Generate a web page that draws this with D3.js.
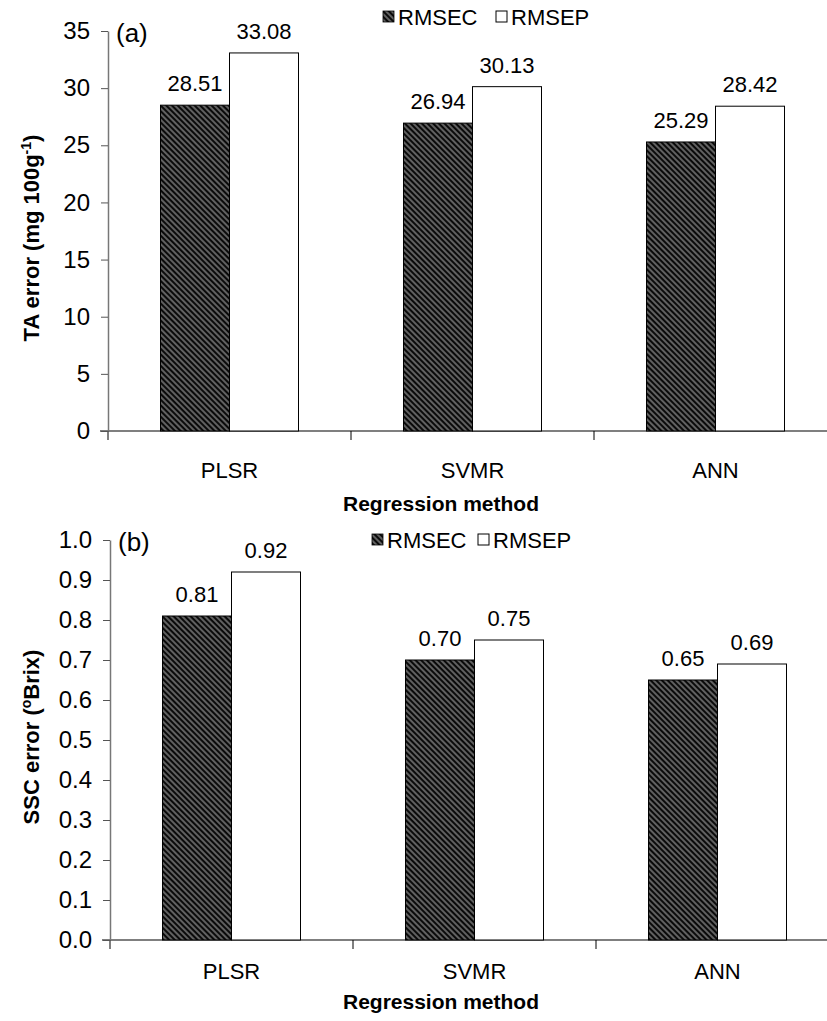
<!DOCTYPE html>
<html><head><meta charset="utf-8">
<script src="https://cdn.jsdelivr.net/npm/d3@7/dist/d3.min.js"></script>
<style>body{margin:0;background:#fff}svg{display:block;font-family:Arial,"Liberation Sans",sans-serif}</style>
</head><body>
<svg id="c" width="827" height="1021"></svg>
<script>
const categories = ["PLSR","SVMR","ANN"];
const seriesNames = ["RMSEC","RMSEP"];
const taRMSEC = [28.51, 26.94, 25.29];
const taRMSEP = [33.08, 30.13, 28.42];
const sscRMSEC = [0.81, 0.70, 0.65];
const sscRMSEP = [0.92, 0.75, 0.69];
const taTicks = [0,5,10,15,20,25,30,35];
const sscTicks = [0,0.1,0.2,0.3,0.4,0.5,0.6,0.7,0.8,0.9,1.0];

const FS = 22;
const svg = d3.select("#c");
const defs = svg.append("defs");
const pat = defs.append("pattern").attr("id","hatch").attr("patternUnits","userSpaceOnUse")
  .attr("width",4).attr("height",4).attr("patternTransform","rotate(-45)");
pat.append("rect").attr("width",4).attr("height",4).attr("fill","#0a0a0a");
pat.append("line").attr("x1",1).attr("y1",0).attr("x2",1).attr("y2",4).attr("stroke","#9a9a9a").attr("stroke-width",1.2);

function panel(o){
  const g = svg.append("g");
  const x = d3.scaleBand().domain(categories).range([o.x0, o.x0 + 243*3]).paddingInner(0).paddingOuter(0);
  const y = d3.scaleLinear().domain(o.domain).range([o.yb, o.yt]);
  g.append("line").attr("x1",o.x0-8).attr("x2",o.x0+243*3).attr("y1",o.yb).attr("y2",o.yb).attr("stroke","#000").attr("stroke-width",1.2);
  categories.forEach(c=>{
    g.append("line").attr("x1",x(c)).attr("x2",x(c)).attr("y1",o.yb).attr("y2",o.yb+9).attr("stroke","#000").attr("stroke-width",1);
  });
  const ya = d3.axisLeft(y).tickValues(o.ticks).tickFormat(o.fmt).tickSize(7).tickSizeOuter(0).tickPadding(11);
  const yg = g.append("g").attr("transform",`translate(${o.x0},0)`).call(ya);
  yg.select(".domain").attr("stroke","#777").attr("stroke-width",1.5);
  yg.selectAll(".tick line").attr("stroke","#555").attr("stroke-width",1);
  yg.selectAll(".tick text").attr("font-size",24).attr("fill","#000").attr("font-family","Arial,'Liberation Sans',sans-serif");
  const bw = 69;
  const series = [o.s1, o.s2];
  series.forEach((vals,si)=>{
    categories.forEach((c,i)=>{
      const cx = x(c) + x.bandwidth()/2;
      const bx = si===0 ? cx - bw : cx;
      g.append("rect").attr("x",bx).attr("y",y(vals[i])).attr("width",bw).attr("height",y(0)-y(vals[i]))
        .attr("fill", si===0 ? "url(#hatch)" : "#fff").attr("stroke","#000").attr("stroke-width",1);
      g.append("text").attr("x",bx+bw/2).attr("y",y(vals[i])-14).attr("text-anchor","middle")
        .attr("font-size",FS).text(o.vfmt(vals[i]));
    });
  });
  categories.forEach(c=>{
    g.append("text").attr("x",x(c)+x.bandwidth()/2).attr("y",o.yb+o.catDy).attr("text-anchor","middle").attr("font-size",FS).text(c);
  });
  g.append("text").attr("x",441).attr("y",o.xtY).attr("text-anchor","middle").attr("font-size",21).attr("font-weight","bold").text("Regression method");
  const yt = g.append("text").attr("transform",`translate(39,${o.ytY}) rotate(-90)`).attr("text-anchor","middle")
    .attr("font-size",22).attr("font-weight","bold");
  o.ytitle(yt);
  g.append("text").attr("x",o.x0+8).attr("y",o.yt+11).attr("font-size",26).text(o.label);
  const L = o.legend;
  g.append("rect").attr("x",L.x1).attr("y",L.y-14).attr("width",11).attr("height",11).attr("fill","url(#hatch)").attr("stroke","#000").attr("stroke-width",0.8);
  g.append("text").attr("x",L.x1+15).attr("y",L.y).attr("font-size",FS).text(seriesNames[0]);
  g.append("rect").attr("x",L.x2).attr("y",L.y-14).attr("width",11).attr("height",11).attr("fill","#fff").attr("stroke","#000").attr("stroke-width",1);
  g.append("text").attr("x",L.x2+15).attr("y",L.y).attr("font-size",FS).text(seriesNames[1]);
}

panel({x0:108, yb:431, yt:31, domain:[0,35], ticks:taTicks, fmt:d3.format("d"), vfmt:d3.format(".2f"),
  s1:taRMSEC, s2:taRMSEP, xtY:511, ytY:238, catDy:47, label:"(a)",
  legend:{x1:383, x2:496, y:25},
  ytitle:t=>{ t.append("tspan").text("TA error (mg 100g");
              t.append("tspan").attr("dy",-8).attr("font-size",14).text("-1");
              t.append("tspan").attr("dy",8).text(")"); }});

panel({x0:110, yb:940, yt:540, domain:[0,1], ticks:sscTicks, fmt:d3.format(".1f"), vfmt:d3.format(".2f"),
  s1:sscRMSEC, s2:sscRMSEP, xtY:1009, ytY:737, catDy:39, label:"(b)",
  legend:{x1:372, x2:478, y:548},
  ytitle:t=>{ t.append("tspan").text("SSC error (");
              t.append("tspan").attr("dy",-8).attr("font-size",14).text("o");
              t.append("tspan").attr("dy",8).text("Brix)"); }});
</script>
</body></html>
